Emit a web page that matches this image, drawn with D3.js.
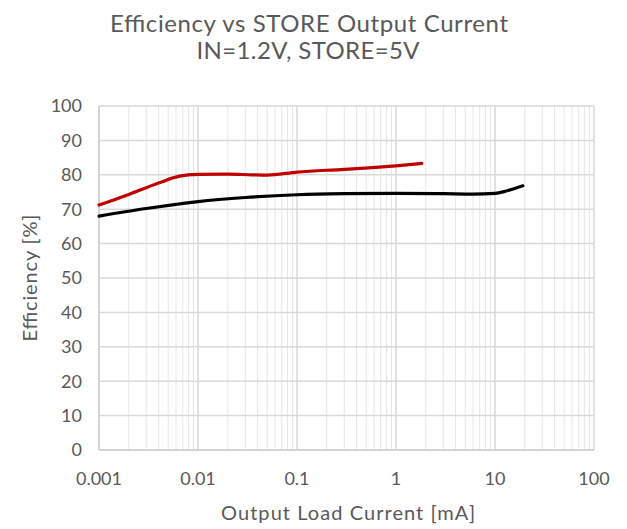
<!DOCTYPE html>
<html><head><meta charset="utf-8">
<script src="https://cdn.jsdelivr.net/npm/d3@7"></script>
<style>body{margin:0;background:#fff}text{font-family:Lato,"Open Sans",sans-serif;fill:#595959}</style>
</head><body><svg id="c" width="627" height="529"></svg>
<script>
const redX = [0.001,0.002,0.004,0.0065,0.01,0.02,0.035,0.05,0.1,0.3,1,1.82];
const redY = [71.2,74.3,77.6,79.6,80.1,80.2,80,79.9,80.8,81.6,82.6,83.3];
const blackX = [0.001,0.003,0.006,0.01,0.03,0.1,0.3,1,3,6,10,13,19.1];
const blackY = [68,70.2,71.4,72.2,73.4,74.2,74.5,74.6,74.5,74.4,74.6,75.3,76.8];
const xTicks = [0.001,0.01,0.1,1,10,100];
const xTickLabels = ["0.001","0.01","0.1","1","10","100"];
const yTicks = [0,10,20,30,40,50,60,70,80,90,100];
const title1 = "Efficiency vs STORE Output Current";
const title2 = "IN=1.2V, STORE=5V";
const xLabel = "Output Load Current [mA]";
const yLabel = "Efficiency [%]";

const svg = d3.select("#c");
const m = {l:99, r:594, t:106, b:450};
const x = d3.scaleLog().domain([0.001,100]).range([m.l,m.r]);
const y = d3.scaleLinear().domain([0,100]).range([m.b,m.t]);

// minor x grid
const minors = [];
for (let e=-3;e<2;e++) for (let k=2;k<10;k++) minors.push(k*Math.pow(10,e));
svg.append("g").selectAll("line").data(minors).join("line")
  .attr("x1",d=>x(d)).attr("x2",d=>x(d)).attr("y1",m.t).attr("y2",m.b)
  .attr("stroke","#e6e6e6").attr("stroke-width",1);
// major grids
svg.append("g").selectAll("line").data(yTicks).join("line")
  .attr("x1",m.l).attr("x2",m.r).attr("y1",d=>y(d)).attr("y2",d=>y(d))
  .attr("stroke","#d9d9d9").attr("stroke-width",1.5);
svg.append("g").selectAll("line").data(xTicks).join("line")
  .attr("x1",d=>x(d)).attr("x2",d=>x(d)).attr("y1",m.t).attr("y2",m.b)
  .attr("stroke","#d9d9d9").attr("stroke-width",1.5);
// axis lines
svg.append("line").attr("x1",m.l).attr("x2",m.l).attr("y1",m.t).attr("y2",m.b).attr("stroke","#cfcfcf").attr("stroke-width",1.5);
svg.append("line").attr("x1",m.l).attr("x2",m.r).attr("y1",m.b).attr("y2",m.b).attr("stroke","#cfcfcf").attr("stroke-width",1.5);

// tick labels
svg.append("g").selectAll("text").data(yTicks).join("text")
  .attr("x",82).attr("y",d=>y(d)).attr("dy","0.36em").attr("text-anchor","end")
  .attr("font-size",18).text(d=>d);
svg.append("g").selectAll("text").data(xTicks).join("text")
  .attr("x",d=>x(d)).attr("y",m.b+35).attr("text-anchor","middle")
  .attr("font-size",18).text((d,i)=>xTickLabels[i]);

// lines
const line = d3.line().x(d=>x(d[0])).y(d=>y(d[1])).curve(d3.curveMonotoneX);
svg.append("path").datum(blackX.map((v,i)=>[v,blackY[i]])).attr("d",line)
  .attr("fill","none").attr("stroke","#000").attr("stroke-width",3.2).attr("stroke-linecap","round");
svg.append("path").datum(redX.map((v,i)=>[v,redY[i]])).attr("d",line)
  .attr("fill","none").attr("stroke","#c00000").attr("stroke-width",3.2).attr("stroke-linecap","round");

// titles
svg.append("text").attr("x",309).attr("y",32).attr("text-anchor","middle").attr("font-size",24)
  .attr("textLength",398).attr("lengthAdjust","spacing").text(title1);
svg.append("text").attr("x",308).attr("y",59).attr("text-anchor","middle").attr("font-size",24)
  .attr("textLength",223).attr("lengthAdjust","spacing").text(title2);
svg.append("text").attr("x",348).attr("y",520).attr("text-anchor","middle").attr("font-size",20)
  .attr("textLength",254).attr("lengthAdjust","spacing").text(xLabel);
svg.append("text").attr("transform","translate(37,278) rotate(-90)").attr("text-anchor","middle").attr("font-size",20)
  .attr("textLength",127).attr("lengthAdjust","spacing").text(yLabel);
</script></body></html>
